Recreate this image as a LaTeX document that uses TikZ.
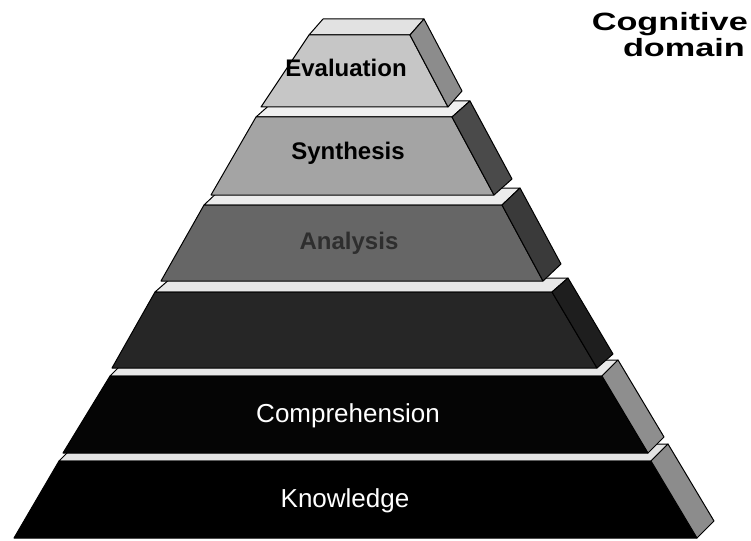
\documentclass[tikz,border=0pt]{standalone}
\usepackage{fontspec}
\setmainfont{Liberation Sans}
\newfontfamily\widefont[FakeStretch=1.37]{Liberation Sans}
\begin{document}
\begin{tikzpicture}[x=1pt,y=-1pt,
  face/.style={draw=black,line width=1pt,line join=round},
  boldlabel/.style={anchor=base,font=\fontsize{24}{24}\selectfont\bfseries,inner sep=0pt},
  plainlabel/.style={anchor=base,font=\fontsize{26}{26}\selectfont,text=white,inner sep=0pt},
  titlelabel/.style={anchor=base east,font=\widefont\fontsize{25}{25}\selectfont\bfseries,inner sep=0pt}]
\definecolor{lidA}{HTML}{E2E2E2}
\definecolor{frontA}{HTML}{C6C6C6}
\definecolor{sideA}{HTML}{8C8C8C}
\definecolor{stripB}{HTML}{EFEFEF}
\definecolor{frontB}{HTML}{A4A4A4}
\definecolor{sideB}{HTML}{4A4A4A}
\definecolor{stripC}{HTML}{ECECEC}
\definecolor{frontC}{HTML}{666666}
\definecolor{sideC}{HTML}{3A3A3A}
\definecolor{textC}{HTML}{2E2E2E}
\definecolor{stripD}{HTML}{E8E8E8}
\definecolor{frontD}{HTML}{262626}
\definecolor{sideD}{HTML}{1E1E1E}
\definecolor{stripE}{HTML}{E8E8E8}
\definecolor{frontE}{HTML}{050505}
\definecolor{sideE}{HTML}{8E8E8E}
\definecolor{stripF}{HTML}{E4E4E4}
\definecolor{frontF}{HTML}{000000}
\definecolor{sideF}{HTML}{8C8C8C}

\useasboundingbox (0,0) rectangle (751,540);
\fill[white] (0,0) rectangle (751,540);

% bottom tier: Knowledge
\filldraw[face,fill=stripF] (59,461) -- (651,461) -- (668,444) -- (76,444) -- cycle;
\filldraw[face,fill=frontF] (59,461) -- (651,461) -- (697,538) -- (14,538) -- cycle;
\filldraw[face,fill=sideF] (651,461) -- (668,444) -- (714,521) -- (697,538) -- cycle;

% Comprehension tier
\filldraw[face,fill=stripE] (110,376) -- (602,376) -- (618,360) -- (126,360) -- cycle;
\filldraw[face,fill=frontE] (110,376) -- (602,376) -- (648,453) -- (63,453) -- cycle;
\filldraw[face,fill=sideE] (602,376) -- (618,360) -- (664,437) -- (648,453) -- cycle;

% Application tier
\filldraw[face,fill=stripD] (155,292) -- (552,292) -- (568,278) -- (171,278) -- cycle;
\filldraw[face,fill=frontD] (155,292) -- (552,292) -- (597,368) -- (112,368) -- cycle;
\filldraw[face,fill=sideD] (552,292) -- (568,278) -- (613,354) -- (597,368) -- cycle;

% Analysis tier
\filldraw[face,fill=stripC] (204,205) -- (502,205) -- (520,188) -- (222,188) -- cycle;
\filldraw[face,fill=frontC] (204,205) -- (502,205) -- (543,281) -- (161,281) -- cycle;
\filldraw[face,fill=sideC] (502,205) -- (520,188) -- (561,264) -- (543,281) -- cycle;

% Synthesis tier
\filldraw[face,fill=stripB] (256,117) -- (452,117) -- (470,101) -- (274,101) -- cycle;
\filldraw[face,fill=frontB] (256,117) -- (452,117) -- (494,195) -- (211,195) -- cycle;
\filldraw[face,fill=sideB] (452,117) -- (470,101) -- (512,179) -- (494,195) -- cycle;

% top tier: Evaluation
\filldraw[face,fill=lidA] (309,35) -- (410,35) -- (424,19) -- (323,19) -- cycle;
\filldraw[face,fill=frontA] (309,35) -- (410,35) -- (448,107) -- (261,107) -- cycle;
\filldraw[face,fill=sideA] (410,35) -- (424,19) -- (462,91) -- (448,107) -- cycle;

% level labels
\node[boldlabel] (evaluation) at (346,77) {Evaluation};
\node[boldlabel] (synthesis) at (348,160) {Synthesis};
\node[boldlabel,text=textC] (analysis) at (349,249) {Analysis};
\node[plainlabel] (comprehension) at (348,422) {Comprehension};
\node[plainlabel] (knowledge) at (345,507) {Knowledge};

% title
\node[titlelabel] (cognitive) at (748,31) {Cognitive};
\node[titlelabel] (domain) at (745,57) {domain};
\end{tikzpicture}
\end{document}
